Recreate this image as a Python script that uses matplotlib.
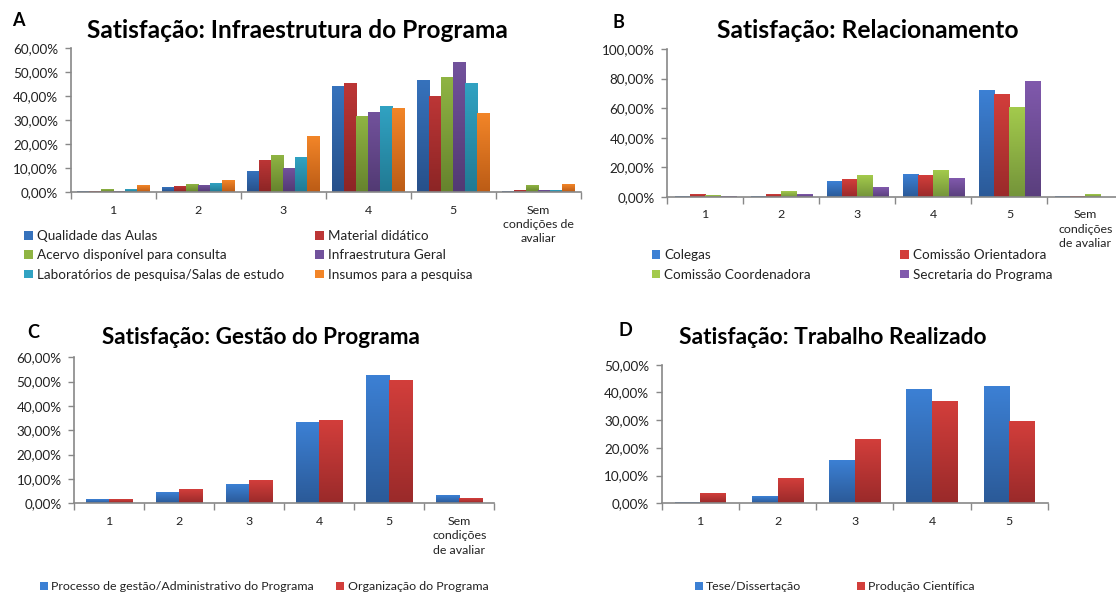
import matplotlib
matplotlib.use('Agg')
import matplotlib.pyplot as plt
import numpy as np
from matplotlib.colors import LinearSegmentedColormap
from matplotlib.patches import Patch

plt.rcParams['font.family'] = ['Lato', 'DejaVu Sans']

W, H = 1116, 594

# ---------------- DATA ----------------
cats_A = ['1', '2', '3', '4', '5', 'Sem\ncondições de\navaliar']
cats_BC = ['1', '2', '3', '4', '5', 'Sem\ncondições\nde avaliar']
cats_D = ['1', '2', '3', '4', '5']

title_A = 'Satisfação: Infraestrutura do Programa'
title_B = 'Satisfação: Relacionamento'
title_C = 'Satisfação: Gestão do Programa'
title_D = 'Satisfação: Trabalho Realizado'

names_A = ['Qualidade das Aulas', 'Material didático', 'Acervo disponível para consulta',
           'Infraestrutura Geral', 'Laboratórios de pesquisa/Salas de estudo', 'Insumos para a pesquisa']
qualidade = [0.4, 1.7, 8.75, 43.75, 46.25, 0.4]
material = [0.4, 2.5, 13.3, 45.0, 39.6, 0.8]
acervo = [1.25, 3.3, 15.4, 31.25, 47.5, 2.9]
infra_geral = [0.4, 2.9, 9.6, 33.3, 53.75, 0.8]
laboratorios = [1.25, 3.75, 14.2, 35.8, 45.4, 0.8]
insumos = [2.9, 5.0, 23.3, 34.6, 32.9, 3.3]

names_B = ['Colegas', 'Comissão Orientadora', 'Comissão Coordenadora', 'Secretaria do Programa']
colegas = [0.67, 0.67, 10.8, 15.5, 72.1, 0.2]
orientadora = [2.0, 2.0, 11.5, 14.8, 69.4, 0.67]
coordenadora = [1.35, 4.0, 14.8, 18.2, 60.7, 2.0]
secretaria = [0.67, 2.0, 6.7, 12.8, 78.2, 0.0]

names_C = ['Processo de gestão/Administrativo do Programa', 'Organização do Programa']
processo = [1.25, 4.2, 7.5, 32.9, 52.5, 2.9]
organizacao = [1.25, 5.4, 9.2, 33.75, 50.4, 1.7]

names_D = ['Tese/Dissertação', 'Produção Científica']
tese = [0.36, 2.2, 15.2, 40.8, 41.9]
producao = [3.25, 9.0, 22.8, 36.5, 29.3]

yticks_A = [0, 10, 20, 30, 40, 50, 60]
yticks_B = [0, 20, 40, 60, 80, 100]
yticks_C = [0, 10, 20, 30, 40, 50, 60]
yticks_D = [0, 10, 20, 30, 40, 50]

# ---------------- STYLE ----------------
# (top colour, bottom colour)
grad_A = [('#3672BC', '#27508A'), ('#BC3636', '#8C2525'), ('#8FB443', '#66832D'),
          ('#72529C', '#523A73'), ('#31A2C2', '#217A93'), ('#F28528', '#BC5C16')]
grad_B = [('#3C80D4', '#2B5A98'), ('#D23E3B', '#9A2A2A'), ('#A3CA4C', '#74943A'),
          ('#8059AC', '#5A3F7D')]
grad_CD = [('#3C80D4', '#2B5A98'), ('#D23E3B', '#9A2A2A')]

fig = plt.figure(figsize=(W / 100, H / 100), dpi=100)
fig.patch.set_facecolor('white')
fig.canvas.draw()
rend = fig.canvas.get_renderer()


def fit_size(s, target_px, weight='normal'):
    p = fig.text(0, 0, s, fontsize=10, fontweight=weight)
    w = p.get_window_extent(rend).width
    p.remove()
    return 10 * target_px / w


YT_FS = fit_size('100,00%', 53)
XT_FS = fit_size('condições', 55)


def rect(x0, x1, ytop, ybot):
    return [x0 / W, 1 - ybot / H, (x1 - x0) / W, (ybot - ytop) / H]


def fmt(v):
    return f'{v:.2f}'.replace('.', ',') + '%'


GRAD = np.linspace(0, 1, 64).reshape(-1, 1)
AXC = '#888888'


def panel(r, cats, series, grads, ymax, yticks, xlabel_pad):
    ax = fig.add_axes(r)
    n = len(series)
    ncat = len(cats)
    w = 1.0 / (n + 1)
    x = np.arange(ncat)
    for i, (vals, (top, bot)) in enumerate(zip(series, grads)):
        cmap = LinearSegmentedColormap.from_list('g%d' % i, [bot, top])
        xs = x - 0.5 + w / 2 + w * (i + 0.5)
        bars = ax.bar(xs, vals, w, color='none', edgecolor='none', zorder=2)
        for b in bars:
            h = b.get_height()
            if h <= 0:
                continue
            ax.imshow(GRAD, extent=[b.get_x(), b.get_x() + b.get_width(), 0, h],
                      origin='lower', aspect='auto', cmap=cmap, zorder=2,
                      interpolation='bilinear')
    ax.set_xlim(-0.5, ncat - 0.5)
    ax.set_ylim(0, ymax)
    ax.set_aspect('auto')
    for s in ['top', 'right']:
        ax.spines[s].set_visible(False)
    for s in ['left', 'bottom']:
        ax.spines[s].set_color(AXC)
        ax.spines[s].set_linewidth(1.2)
    ax.set_yticks(yticks)
    ax.set_yticklabels([fmt(v) for v in yticks])
    ax.tick_params(axis='y', length=4, width=1, color=AXC, labelsize=YT_FS,
                   labelcolor='#222222', pad=5)
    ax.set_xticks(x)
    ax.set_xticklabels(cats)
    ax.set_xticks(np.arange(ncat + 1) - 0.5, minor=True)
    ax.tick_params(axis='x', which='major', length=0, labelsize=XT_FS,
                   labelcolor='#222222', pad=xlabel_pad)
    ax.tick_params(axis='x', which='minor', length=5, width=1, color=AXC)
    for t in ax.get_xticklabels():
        t.set_linespacing(1.38)
    ax.set_facecolor('none')
    return ax


axA = panel(rect(70.7, 580.7, 48, 192), cats_A,
            [qualidade, material, acervo, infra_geral, laboratorios, insumos],
            grad_A, 60, yticks_A, 9)
axB = panel(rect(667.3, 1123.5, 49, 197), cats_BC,
            [colegas, orientadora, coordenadora, secretaria], grad_B, 100, yticks_B, 9)
axC = panel(rect(74.3, 494.3, 357.3, 503.3), cats_BC, [processo, organizacao],
            grad_CD, 60, yticks_C, 9)
axD = panel(rect(661.7, 1048, 364.7, 503.3), cats_D, [tese, producao],
            grad_CD, 50, yticks_D, 9)

# titles and panel letters
titles = [(title_A, 297, 30, 419), (title_B, 868, 30, 302),
          (title_C, 261, 338, 319), (title_D, 833, 338, 308)]
for t, cx, cy, tw in titles:
    fig.text(cx / W, 1 - cy / H, t, ha='center', va='center',
             fontsize=fit_size(t, tw, 'bold'), fontweight='bold', color='black')
for lab, cx, cy in [('A', 18, 21), ('B', 618, 23), ('C', 33, 332), ('D', 625, 331)]:
    fig.text(cx / W, 1 - cy / H, lab, ha='center', va='center', fontsize=13,
             fontweight='bold', color='black')

LEG_A = fit_size(names_A[4], 246)
LEG_B = fit_size(names_B[2], 146)
LEG_C = fit_size(names_C[0], 264)
LEG_D = fit_size(names_D[0], 95)


def legend(labels, grads, x, yc, fs, spacing=0.55):
    handles = [Patch(facecolor=g[0], edgecolor='none') for g in grads]
    lg = fig.legend(handles, labels, loc='center left',
                    bbox_to_anchor=(x / W, 1 - yc / H), frameon=False,
                    fontsize=fs, handlelength=0.62, handleheight=0.62,
                    handletextpad=0.3, borderpad=0, borderaxespad=0,
                    labelspacing=spacing, labelcolor='#222222')
    return lg


legend([names_A[0], names_A[2], names_A[4]], [grad_A[0], grad_A[2], grad_A[4]], 24.3, 255.3, LEG_A)
legend([names_A[1], names_A[3], names_A[5]], [grad_A[1], grad_A[3], grad_A[5]], 315.4, 255.3, LEG_A)
legend([names_B[0], names_B[2]], [grad_B[0], grad_B[2]], 652, 265, LEG_B)
legend([names_B[1], names_B[3]], [grad_B[1], grad_B[3]], 900.4, 265, LEG_B)
legend([names_C[0]], [grad_CD[0]], 40, 587, LEG_C)
legend([names_C[1]], [grad_CD[1]], 336.4, 587, LEG_C)
legend([names_D[0]], [grad_CD[0]], 695, 587, LEG_D)
legend([names_D[1]], [grad_CD[1]], 857, 587, LEG_D)

fig.savefig('out.png', dpi=100, facecolor='white')
